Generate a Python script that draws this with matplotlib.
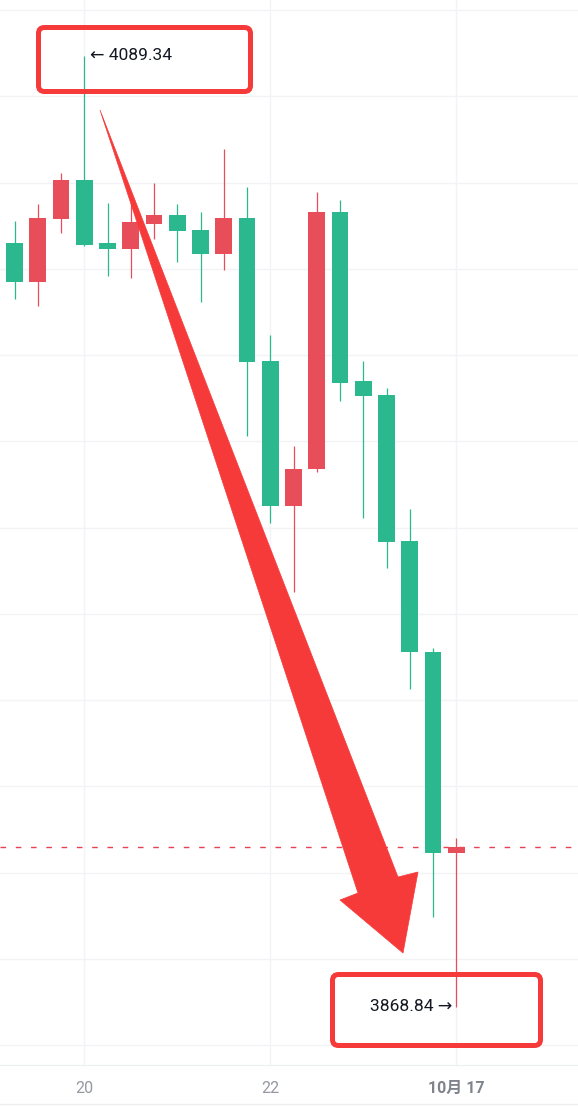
import matplotlib
matplotlib.use('Agg')
import matplotlib.pyplot as plt
from matplotlib.patches import FancyBboxPatch, Polygon
import numpy as np

# 15 min candles, index 0..19
opens = [4045.98, 4036.93, 4051.54, 4060.59, 4045.98, 4044.59, 4050.38, 4052.47, 4048.99, 4043.43,
         4051.77, 4018.62, 3984.99, 3993.57, 4053.17, 4013.98, 4010.73, 3976.88, 3951.14, 3904.53]
highs = [4051.08, 4055.02, 4062.21, 4089.34, 4055.25, 4056.41, 4059.89, 4055.02, 4053.17, 4067.77,
         4058.96, 4024.64, 3998.91, 4057.80, 4055.95, 4018.62, 4012.35, 3984.30, 3952.06, 3908.01]
lows = [4032.99, 4031.37, 4048.30, 4045.30, 4038.33, 4037.86, 4046.91, 4041.57, 4032.30, 4039.72,
        4001.22, 3981.05, 3965.05, 3992.88, 4009.34, 3982.21, 3970.62, 3942.56, 3889.69, 3868.84]
closes = [4036.93, 4051.77, 4060.59, 4045.51, 4044.59, 4050.85, 4052.47, 4048.76, 4043.43, 4051.77,
          4018.38, 3984.99, 3993.57, 4053.17, 4013.51, 4010.50, 3976.64, 3951.14, 3904.53, 3905.92]

tick_pos = [3, 11, 19]
tick_labels = ['20', '22', '10月 17']
grid_levels = list(range(3860, 4101, 20))

up_color = '#e84e5a'
down_color = '#2bb88f'
mark_red = '#f63a3a'

W, H = 578, 1107
fig = plt.figure(figsize=(W / 100, H / 100), dpi=100)
fig.patch.set_facecolor('white')

plot_bottom = 1065
ax = fig.add_axes([0, 1 - plot_bottom / H, 1, plot_bottom / H])

x = np.arange(len(opens))
o = np.array(opens)
c = np.array(closes)
colors = [up_color if cc >= oo else down_color for oo, cc in zip(o, c)]
ax.vlines(x, lows, highs, colors=colors, linewidth=0.9, zorder=3)
body_h = np.maximum(np.abs(c - o), 1.2)
ax.bar(x, body_h, bottom=np.minimum(o, c), width=0.72, color=colors, zorder=4)

# last price line
ax.axhline(closes[-1], color='#e8414f', linewidth=1.0, linestyle=(0, (4, 7)), zorder=2)

# price scale: 4.3125 px per point, candle step 23.25 px
ax.set_xlim(-14.5 / 23.25, (W - 14.5) / 23.25)
ax.set_ylim(4089.34 - (plot_bottom - 56) / 4.3125, 4089.34 + 56 / 4.3125)

ax.set_yticks(grid_levels)
ax.set_xticks(tick_pos)
ax.set_xticklabels(tick_labels)
ax.grid(True, color='#f1f3f6', linewidth=1, zorder=0)
ax.tick_params(left=False, labelleft=False, bottom=False, pad=8)
for lab in ax.get_xticklabels():
    lab.set_family(['Roboto', 'Noto Sans CJK SC'])
    lab.set_fontsize(11.5)
    lab.set_color('#9598a1')
lab.set_fontweight('bold')
lab.set_color('#7f838c')
for s in ['top', 'left', 'right']:
    ax.spines[s].set_visible(False)
ax.spines['bottom'].set_color('#eceef2')

hi_i = int(np.argmax(highs))
lo_i = int(np.argmin(lows))
ax.annotate('\u2190 {:.2f}'.format(highs[hi_i]), xy=(hi_i, highs[hi_i]), xytext=(6, 0),
            textcoords='offset pixels', ha='left', va='center', fontsize=12.5,
            family=['Roboto', 'DejaVu Sans'], color='#131722', zorder=6)
ax.annotate('{:.2f} \u2192'.format(lows[lo_i]), xy=(lo_i, lows[lo_i]), xytext=(-4, 0),
            textcoords='offset pixels', ha='right', va='center', fontsize=12.5,
            family=['Roboto', 'DejaVu Sans'], color='#131722', zorder=6)

# hand-drawn red marks, in pixel space
ov = fig.add_axes([0, 0, 1, 1])
ov.set_xlim(0, W)
ov.set_ylim(H, 0)
ov.axis('off')
ov.patch.set_alpha(0)

for (x0, y0, x1, y1) in [(38.5, 27.5, 250.5, 91.5), (332.5, 974.5, 540.5, 1045.5)]:
    ov.add_patch(FancyBboxPatch((x0, y0), x1 - x0, y1 - y0,
                                boxstyle='round,pad=0,rounding_size=6',
                                fc='none', ec=mark_red, lw=3.6))

arrow = [(100, 110), (358, 893), (340, 900), (403, 953), (418, 872), (398, 877)]
ov.add_patch(Polygon(arrow, closed=True, fc=mark_red, ec=mark_red, lw=0.5))

ov.plot([0, W], [1104, 1104], color='#eceef2', linewidth=1)

fig.savefig('out.png', dpi=100, facecolor='white')
